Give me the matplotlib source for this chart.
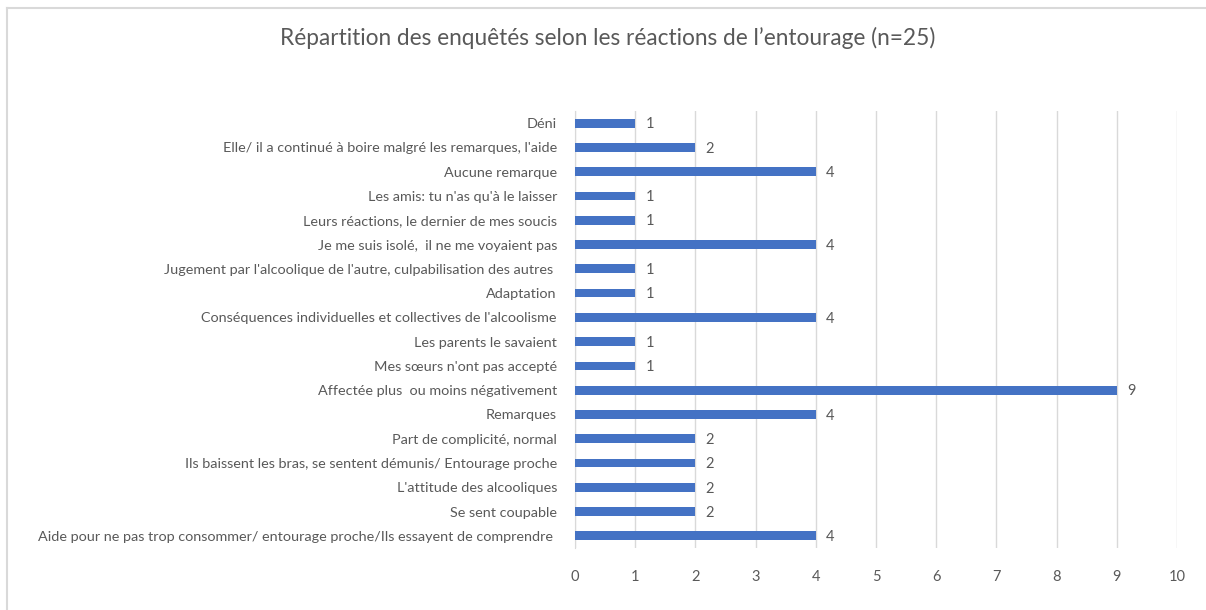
import matplotlib
matplotlib.use("Agg")
import matplotlib.pyplot as plt
from matplotlib.lines import Line2D

categories = [
    "Déni",
    "Elle/ il a continué à boire malgré les remarques, l'aide",
    "Aucune remarque",
    "Les amis: tu n'as qu'à le laisser",
    "Leurs réactions, le dernier de mes soucis",
    "Je me suis isolé,  il ne me voyaient pas",
    "Jugement par l'alcoolique de l'autre, culpabilisation des autres ",
    "Adaptation",
    "Conséquences individuelles et collectives de l'alcoolisme",
    "Les parents le savaient",
    "Mes sœurs n'ont pas accepté",
    "Affectée plus  ou moins négativement",
    "Remarques",
    "Part de complicité, normal",
    "Ils baissent les bras, se sentent démunis/ Entourage proche",
    "L'attitude des alcooliques",
    "Se sent coupable",
    "Aide pour ne pas trop consommer/ entourage proche/Ils essayent de comprendre ",
]
values = [1, 2, 4, 1, 1, 4, 1, 1, 4, 1, 1, 9, 4, 2, 2, 2, 2, 4]
xticks = list(range(0, 11))
title = "Répartition des enquêtés selon les réactions de l’entourage (n=25)"

plt.rcParams['font.family'] = ['Lato', 'DejaVu Sans']
txt = '#595959'

fig = plt.figure(figsize=(12.06, 6.10), dpi=100)
ax = fig.add_axes([575/1206, 1-548/610, (1177-575)/1206, (548-111)/610])

n = len(categories)
ypos = list(range(n))[::-1]
ax.barh(ypos, values, height=0.36, color='#4472C4', zorder=3)
for y, v in zip(ypos, values):
    ax.text(v + 0.17, y - 0.05, str(v), va='center', ha='left', fontsize=10.5, color=txt)

ax.set_xlim(0, 10)
ax.set_ylim(-0.5, n - 0.5)
ax.set_xticks(xticks)
ax.set_xticklabels([str(t) for t in xticks])
ax.set_yticks(ypos)
ax.set_yticklabels(categories)
ax.tick_params(axis='x', length=0, pad=16, labelsize=10.5, colors=txt)
ax.tick_params(axis='y', length=0, pad=13, labelsize=10.35, colors=txt)
ax.grid(axis='x', color='#D9D9D9', linewidth=1, zorder=0)
for s in ['top', 'right', 'bottom']:
    ax.spines[s].set_visible(False)
ax.spines['left'].set_color('#D9D9D9')

fig.text(608/1206, 1-38/610, title, ha='center', va='center', fontsize=16.3, color=txt)

# chart-area frame (left and top edges visible)
fig.add_artist(Line2D([7/1206, 7/1206], [0, 1-8/610], transform=fig.transFigure, color='#D9D9D9', lw=1.5))
fig.add_artist(Line2D([7/1206, 1], [1-8/610, 1-8/610], transform=fig.transFigure, color='#D9D9D9', lw=1.5))

fig.savefig('out.png', dpi=100, facecolor='white')
